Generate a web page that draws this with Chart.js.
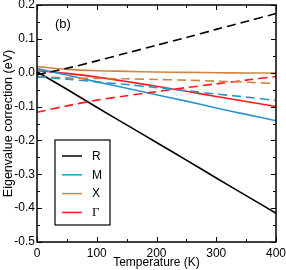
<!DOCTYPE html>
<html>
<head>
<meta charset="utf-8">
<script src="https://cdn.jsdelivr.net/npm/chart.js@4"></script>
<style>
  html, body { margin: 0; padding: 0; background: #fff; }
  #wrap { width: 286px; height: 270px; }
</style>
</head>
<body>
<div id="wrap"><canvas id="eig-chart" width="286" height="270"></canvas></div>
<script>
// temperatures (K)
const temps = [0, 50, 100, 150, 200, 250, 300, 350, 400];

// eigenvalue corrections (eV), solid and dashed curves for each k-point
const rSolid  = [0.003, -0.049, -0.102, -0.154, -0.206, -0.258, -0.311, -0.363, -0.415];
const rDashed = [-0.006, 0.013, 0.035, 0.058, 0.081, 0.104, 0.128, 0.151, 0.175];
const mSolid  = [0.012, -0.007, -0.027, -0.046, -0.065, -0.084, -0.104, -0.123, -0.142];
const mDashed = [-0.012, -0.019, -0.027, -0.035, -0.044, -0.053, -0.063, -0.072, -0.082];
const xSolid  = [0.018, 0.010, 0.006, 0.004, 0.002, 0.001, 0.000, -0.001, -0.001];
const xDashed = [-0.012, -0.015, -0.017, -0.018, -0.020, -0.022, -0.025, -0.028, -0.032];
const gSolid  = [0.006, -0.002, -0.013, -0.026, -0.040, -0.055, -0.070, -0.085, -0.100];
const gDashed = [-0.117, -0.098, -0.081, -0.068, -0.056, -0.044, -0.033, -0.022, -0.011];

const labels = ['R', 'M', 'X', '\u0393'];
const colors = ['#000000', '#2595d2', '#d4843f', '#ff1a1a'];

const xTicks = [0, 100, 200, 300, 400];
const yTicks = [0.2, 0.1, 0.0, -0.1, -0.2, -0.3, -0.4, -0.5];

const sans = 'Liberation Sans, Arial, sans-serif';

function series(vals, i, dashed) {
    return {
        label: labels[i] + (dashed ? ' dashed' : ''),
        data: temps.map((t, k) => ({x: t, y: vals[k]})),
        borderColor: colors[i],
        borderWidth: 1.6,
        borderDash: dashed ? [9, 5] : [],
        pointRadius: 0,
        tension: 0.3,
        fill: false
    };
}

// frame, inward ticks, legend box and panel tag
const decor = {
    id: 'decor',
    afterDraw(chart) {
        const {ctx, chartArea: a, scales: {x, y}} = chart;
        ctx.save();
        ctx.strokeStyle = '#000';
        ctx.lineWidth = 1;
        const seg = (x1, y1, x2, y2) => { ctx.beginPath(); ctx.moveTo(x1, y1); ctx.lineTo(x2, y2); ctx.stroke(); };
        for (let v = 0; v <= 400; v += 50) {
            const px = Math.round(x.getPixelForValue(v)) + 0.5;
            const len = v % 100 === 0 ? 5 : 3;
            seg(px, a.bottom, px, a.bottom - len);
            seg(px, a.top, px, a.top + len);
        }
        for (let k = -10; k <= 4; k++) {
            const py = Math.round(y.getPixelForValue(k * 0.05)) + 0.5;
            const len = k % 2 === 0 ? 5 : 3;
            seg(a.left, py, a.left + len, py);
            seg(a.right, py, a.right - len, py);
        }
        ctx.lineWidth = 1.5;
        ctx.strokeRect(a.left, a.top, a.right - a.left, a.bottom - a.top);

        // legend
        const lx = a.left + 18, ly = a.top + 135, lw = 55, lh = 85;
        ctx.lineWidth = 1.2;
        ctx.strokeRect(lx, ly, lw, lh);
        labels.forEach((lab, i) => {
            const yy = ly + 16 + i * 18.8;
            ctx.strokeStyle = colors[i];
            ctx.lineWidth = 1.5;
            seg(lx + 7, yy, lx + 27, yy);
            ctx.fillStyle = '#000';
            ctx.textBaseline = 'middle';
            ctx.textAlign = 'left';
            ctx.font = lab === '\u0393' ? '13px Liberation Serif, serif' : '12px ' + sans;
            ctx.fillText(lab, lx + 37, yy + 0.5);
        });

        ctx.fillStyle = '#000';
        ctx.font = '13px ' + sans;
        ctx.textBaseline = 'middle';
        ctx.fillText('(b)', a.left + 18, a.top + 19);
        ctx.restore();
    }
};

const chart = new Chart(document.getElementById('eig-chart'), {
    type: 'line',
    data: {
        datasets: [
            series(rDashed, 0, true),
            series(mDashed, 1, true),
            series(xDashed, 2, true),
            series(gDashed, 3, true),
            series(xSolid, 2, false),
            series(mSolid, 1, false),
            series(gSolid, 3, false),
            series(rSolid, 0, false)
        ]
    },
    options: {
        responsive: false,
        animation: false,
        layout: { padding: { top: 5, right: 10, left: 0, bottom: 0 } },
        plugins: {
            legend: { display: false },
            tooltip: { enabled: false }
        },
        scales: {
            x: {
                type: 'linear',
                min: 0,
                max: 400,
                afterBuildTicks: s => { s.ticks = xTicks.map(v => ({value: v})); },
                afterFit: s => { s.height = 28; s.paddingLeft = 0; s.paddingRight = 0; },
                grid: { display: false, drawTicks: false },
                border: { display: false },
                ticks: {
                    autoSkip: false, maxRotation: 0, padding: 4,
                    color: '#000', font: { family: sans, size: 12 }
                },
                title: {
                    display: true, text: 'Temperature (K)', color: '#000',
                    padding: { top: 0, bottom: 0 },
                    font: { family: sans, size: 12 }
                }
            },
            y: {
                type: 'linear',
                min: -0.5,
                max: 0.2,
                afterBuildTicks: s => { s.ticks = yTicks.map(v => ({value: v})); },
                afterFit: s => { s.width = 37; s.paddingTop = 0; s.paddingBottom = 0; },
                grid: { display: false, drawTicks: false },
                border: { display: false },
                ticks: {
                    autoSkip: false, padding: 2, color: '#000',
                    font: { family: sans, size: 12 },
                    callback: v => Number(v).toFixed(1)
                },
                title: {
                    display: true, text: 'Eigenvalue correction (eV)', color: '#000',
                    padding: { top: 1, bottom: 0 },
                    font: { family: sans, size: 12.5 }
                }
            }
        }
    },
    plugins: [decor]
});
</script>
</body>
</html>
